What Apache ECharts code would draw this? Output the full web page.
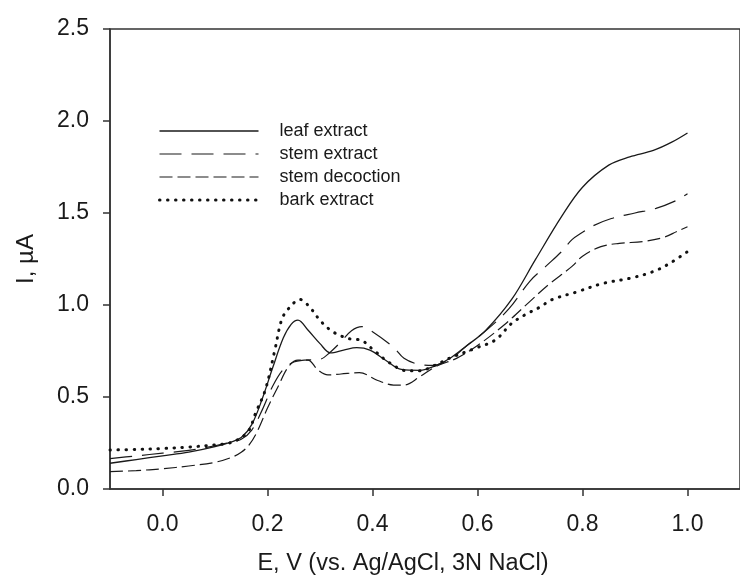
<!DOCTYPE html>
<html>
<head>
<meta charset="utf-8">
<script src="https://cdn.jsdelivr.net/npm/echarts@6/dist/echarts.min.js"></script>
<style>
    html, body { margin: 0; padding: 0; background: #fff; }
    #chart { width: 740px; height: 581px; }
</style>
</head>
<body>
<div id="chart"></div>
<script>
// E (V) vs I (uA)
const leafExtract = [
    [-0.1, 0.14], [-0.05, 0.16], [0.0, 0.18], [0.05, 0.2], [0.1, 0.23], [0.13, 0.255],
    [0.15, 0.28], [0.17, 0.35], [0.19, 0.49], [0.21, 0.66], [0.23, 0.82], [0.245, 0.895],
    [0.258, 0.918], [0.277, 0.864], [0.3, 0.79], [0.32, 0.74], [0.345, 0.755], [0.37, 0.768],
    [0.395, 0.755], [0.425, 0.7], [0.455, 0.65], [0.49, 0.645], [0.52, 0.67], [0.55, 0.715],
    [0.58, 0.78], [0.615, 0.86], [0.665, 1.03], [0.71, 1.245], [0.76, 1.48], [0.8, 1.64],
    [0.85, 1.76], [0.89, 1.805], [0.935, 1.84], [0.97, 1.885], [1.0, 1.935]
]

const stemExtract = [
    [-0.1, 0.165], [-0.05, 0.18], [0.0, 0.195], [0.05, 0.21], [0.1, 0.235], [0.13, 0.255],
    [0.15, 0.27], [0.17, 0.32], [0.19, 0.43], [0.21, 0.56], [0.23, 0.65], [0.25, 0.69],
    [0.27, 0.7], [0.3, 0.705], [0.32, 0.745], [0.34, 0.8], [0.36, 0.86], [0.38, 0.882],
    [0.4, 0.855], [0.44, 0.77], [0.46, 0.71], [0.485, 0.68], [0.515, 0.672], [0.55, 0.71],
    [0.58, 0.78], [0.62, 0.87], [0.66, 0.98], [0.7, 1.13], [0.73, 1.21], [0.76, 1.29],
    [0.78, 1.355], [0.8, 1.395], [0.82, 1.43], [0.855, 1.47], [0.9, 1.5], [0.94, 1.525],
    [0.98, 1.57], [1.0, 1.605]
]

const stemDecoction = [
    [-0.1, 0.094], [-0.05, 0.1], [0.0, 0.11], [0.05, 0.125], [0.1, 0.145], [0.13, 0.17],
    [0.15, 0.2], [0.165, 0.24], [0.18, 0.31], [0.2, 0.44], [0.22, 0.556], [0.24, 0.665],
    [0.258, 0.7], [0.277, 0.7], [0.296, 0.647], [0.315, 0.62], [0.34, 0.625], [0.375, 0.632],
    [0.41, 0.59], [0.44, 0.565], [0.46, 0.565], [0.49, 0.61], [0.52, 0.665], [0.56, 0.71],
    [0.6, 0.78], [0.65, 0.89], [0.7, 1.02], [0.735, 1.11], [0.78, 1.21], [0.8, 1.265],
    [0.835, 1.317], [0.87, 1.335], [0.915, 1.345], [0.955, 1.368], [0.98, 1.4], [1.0, 1.425]
]

const barkExtract = [
    [-0.1, 0.212], [-0.05, 0.215], [0.0, 0.22], [0.05, 0.228], [0.1, 0.24], [0.13, 0.252],
    [0.15, 0.28], [0.165, 0.32], [0.177, 0.41], [0.196, 0.54], [0.214, 0.755], [0.227, 0.92],
    [0.24, 0.98], [0.262, 1.03], [0.28, 0.99], [0.302, 0.91], [0.327, 0.85], [0.358, 0.815],
    [0.377, 0.81], [0.402, 0.755], [0.433, 0.685], [0.465, 0.643], [0.49, 0.643], [0.52, 0.674],
    [0.546, 0.71], [0.596, 0.765], [0.634, 0.81], [0.665, 0.9], [0.69, 0.946], [0.72, 0.99],
    [0.74, 1.027], [0.79, 1.072], [0.84, 1.118], [0.89, 1.145], [0.934, 1.181], [0.966, 1.226],
    [1.0, 1.29]
]

const xTicks = [0.0, 0.2, 0.4, 0.6, 0.8, 1.0]

const ink = '#1a1a1a'
const font = 'Liberation Sans, Arial, sans-serif'

const styles = {
    leaf: { color: ink, width: 1.3, type: 'solid' },
    stem: { color: ink, width: 1.2, type: [22, 10] },
    decoction: { color: ink, width: 1.2, type: [13, 5] },
    bark: { color: '#111', width: 3, type: [0.5, 7.5], cap: 'round' }
}

const makeSeries = (name, data, lineStyle) => ({
    name,
    type: 'line',
    data,
    smooth: 0.35,
    symbol: 'none',
    lineStyle,
    itemStyle: { color: ink },
    emphasis: { disabled: true }
})

const chart = echarts.init(document.getElementById('chart'))

chart.setOption({
    animation: false,
    backgroundColor: '#fff',
    grid: {
        left: 110,
        top: 29,
        width: 639,
        height: 460,
        show: true,
        borderColor: '#333',
        borderWidth: 1.5
    },
    legend: {
        orient: 'vertical',
        left: 158,
        top: 122,
        padding: 0,
        itemWidth: 99,
        itemHeight: 18,
        itemGap: 5,
        // hide the marker circle, keep only the line sample
        itemStyle: { color: 'rgba(0,0,0,0)', borderWidth: 0 },
        textStyle: {
            fontFamily: font,
            fontSize: 18,
            lineHeight: 18,
            color: ink,
            padding: [0, 0, 0, 16]
        },
        data: [
            { name: 'leaf extract', lineStyle: styles.leaf },
            { name: 'stem extract', lineStyle: styles.stem },
            { name: 'stem decoction', lineStyle: styles.decoction },
            { name: 'bark extract', lineStyle: styles.bark }
        ]
    },
    xAxis: {
        type: 'value',
        min: -0.1,
        max: 1.1,
        name: 'E, V (vs. Ag/AgCl, 3N NaCl)',
        nameLocation: 'middle',
        nameGap: 63,
        nameTextStyle: { fontFamily: font, fontSize: 23.5, color: ink, padding: [0, 44, 0, 0] },
        axisLine: { onZero: false, lineStyle: { color: '#333', width: 1.5 } },
        axisTick: { show: true, length: 7, customValues: xTicks, lineStyle: { color: '#333', width: 1.5 } },
        axisLabel: {
            customValues: xTicks,
            margin: 24,
            fontFamily: font,
            fontSize: 23,
            color: ink,
            formatter: v => v.toFixed(1)
        },
        splitLine: { show: false }
    },
    yAxis: {
        type: 'value',
        min: 0,
        max: 2.5,
        interval: 0.5,
        name: 'I, µA',
        nameLocation: 'middle',
        nameGap: 72,
        nameTextStyle: { fontFamily: font, fontSize: 24, color: ink },
        axisLine: { show: true, onZero: false, lineStyle: { color: '#333', width: 1.5 } },
        axisTick: { show: true, length: 7, lineStyle: { color: '#333', width: 1.5 } },
        axisLabel: {
            margin: 21,
            fontFamily: font,
            fontSize: 23,
            color: ink,
            formatter: v => v.toFixed(1)
        },
        splitLine: { show: false }
    },
    series: [
        makeSeries('leaf extract', leafExtract, styles.leaf),
        makeSeries('stem extract', stemExtract, styles.stem),
        makeSeries('stem decoction', stemDecoction, styles.decoction),
        makeSeries('bark extract', barkExtract, styles.bark)
    ]
})
</script>
</body>
</html>
